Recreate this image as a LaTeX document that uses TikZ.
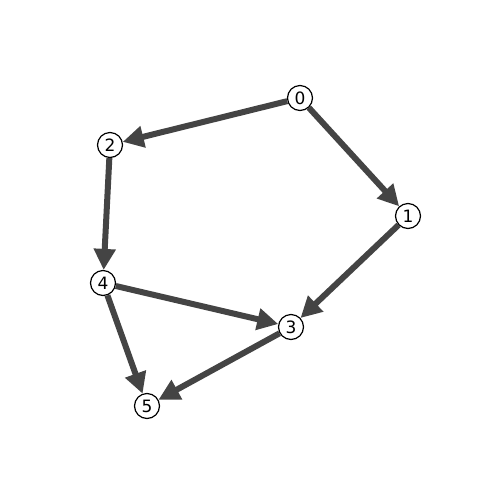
\documentclass[tikz,border=0pt]{standalone}
\usepackage{fontspec}
\setmainfont{DejaVu Sans}
\usetikzlibrary{arrows.meta}
\definecolor{edgegray}{HTML}{444444}
\begin{document}
\begin{tikzpicture}[x=0.5pt,y=-0.5pt,
  vtx/.style={circle,draw=black,fill=white,line width=0.6pt,minimum size=12.5pt,inner sep=0pt,font=\fontsize{8.5pt}{9pt}\selectfont},
  edge/.style={draw=edgegray,line width=3pt,-{Triangle[length=10.5pt,width=10.5pt]}}]
\useasboundingbox (0,0) rectangle (500,500);
\node[vtx] (n0) at (300,98) {0};
\node[vtx] (n1) at (408,216) {1};
\node[vtx] (n2) at (110,145) {2};
\node[vtx] (n3) at (291,327) {3};
\node[vtx] (n4) at (103,283) {4};
\node[vtx] (n5) at (147,406) {5};
\draw[edge] (n0) -- (n2);
\draw[edge] (n0) -- (n1);
\draw[edge] (n2) -- (n4);
\draw[edge] (n1) -- (n3);
\draw[edge] (n4) -- (n3);
\draw[edge] (n4) -- (n5);
\draw[edge] (n3) -- (n5);
\end{tikzpicture}
\end{document}
